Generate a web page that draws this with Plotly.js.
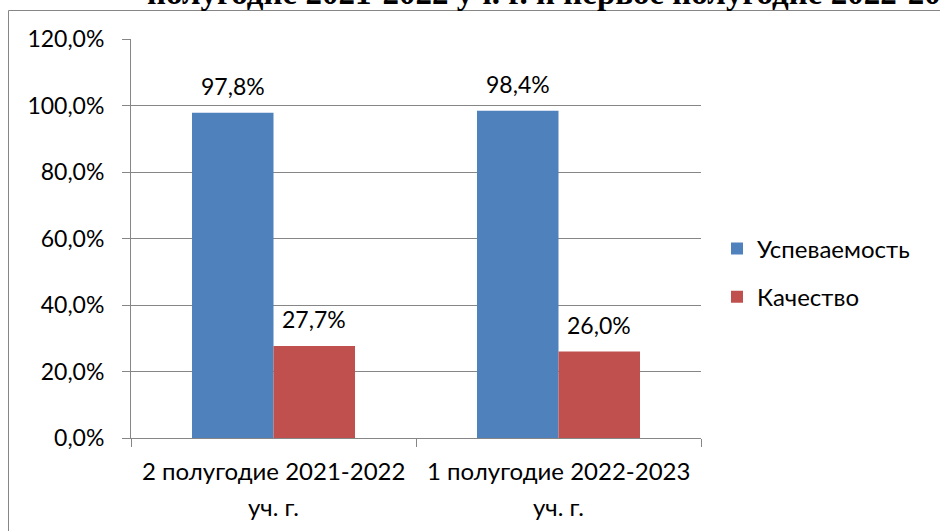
<!DOCTYPE html>
<html>
<head>
<meta charset="utf-8">
<script src="https://cdn.plot.ly/plotly-3.0.1.min.js"></script>
<style>html,body{margin:0;padding:0;background:#fff;}#chart{width:940px;height:531px;}</style>
</head>
<body>
<div id="chart"></div>
<script>
const categories = ["2 полугодие 2021-2022<br>уч. г.", "1 полугодие 2022-2023<br>уч. г."];
const seriesNames = ["Успеваемость", "Качество"];
const uspevaemost = [0.978, 0.984];
const kachestvo = [0.277, 0.260];
const yTicks = [0, 0.2, 0.4, 0.6, 0.8, 1.0, 1.2];
const titleText = "полугодие 2021-2022 уч. г. и первое полугодие 2022-2023";

const colors = ["#4F81BD", "#C0504D"];
const font = "Lato, 'Open Sans', sans-serif";
const W = 940, H = 531;
const M = {l: 131, r: 239, t: 39, b: 93};
const PW = W - M.l - M.r, PH = H - M.t - M.b;
const bargap = 0.428;

const series = [uspevaemost, kachestvo];
const idx = categories.map((c, i) => i);

const traces = series.map((vals, j) => ({
  type: 'bar',
  name: seriesNames[j],
  x: idx,
  y: vals,
  legendgroup: 'g' + j,
  marker: {color: colors[j], line: {width: 0}},
  hoverinfo: 'skip'
}));

const fmt = v => (v * 100).toFixed(1).replace('.', ',') + '%';
const annotations = [];
series.forEach((vals, j) => {
  vals.forEach((v, i) => {
    annotations.push({
      x: i + (j - 0.5) * (1 - bargap) / 2,
      y: v, xref: 'x', yref: 'y',
      text: fmt(v), showarrow: false,
      yanchor: 'bottom', yshift: 11,
      font: {family: font, size: 23, color: '#000'}
    });
  });
});
categories.forEach((c, i) => {
  c.split('<br>').forEach((line, k) => {
    annotations.push({
      x: i, y: 0, xref: 'x', yref: 'paper',
      text: line, showarrow: false,
      yanchor: 'middle', yshift: -32 - 36 * k,
      font: {family: font, size: 24, color: '#000'}
    });
  });
});
annotations.push({
  x: (145 - M.l) / PW, y: (H - M.b - 13) / PH, xref: 'paper', yref: 'paper',
  text: '<b>' + titleText + '</b>', showarrow: false,
  xanchor: 'left', yanchor: 'bottom',
  font: {family: "'Liberation Serif', 'Times New Roman', serif", size: 33, color: '#000'}
});

const layout = {
  width: W, height: H,
  margin: M,
  paper_bgcolor: '#fff', plot_bgcolor: '#fff',
  separators: ', ',
  showlegend: true,
  barmode: 'group', bargap: bargap, bargroupgap: 0,
  font: {family: font, size: 23, color: '#000'},
  xaxis: {
    type: 'linear', range: [-0.5, categories.length - 0.5],
    tickvals: [-0.5, 0.5, 1.5], showticklabels: false,
    ticks: 'outside', ticklen: 8, tickcolor: '#868686', tickwidth: 1,
    showline: true, linecolor: '#868686', linewidth: 1,
    showgrid: false, zeroline: false, fixedrange: true
  },
  yaxis: {
    range: [0, 1.2], tickvals: yTicks, tickformat: '.1%',
    ticks: 'outside', ticklen: 8, tickcolor: '#868686', tickwidth: 1,
    ticklabelstandoff: 13,
    showline: true, linecolor: '#868686', linewidth: 1,
    showgrid: true, gridcolor: '#868686', gridwidth: 1,
    zeroline: false, tickfont: {family: font, size: 23, color: '#000'}
  },
  legend: {
    x: (717 - M.l) / PW, xanchor: 'left',
    y: (H - M.b - 273) / PH, yanchor: 'middle',
    traceorder: 'grouped', tracegroupgap: 14,
    font: {family: font, size: 24, color: '#000'},
    bgcolor: 'rgba(0,0,0,0)'
  },
  annotations: annotations,
  shapes: [{
    type: 'rect', xref: 'paper', yref: 'paper',
    x0: (8.5 - M.l) / PW, x1: (W + 5 - M.l) / PW,
    y0: (H - M.b - (H + 5)) / PH, y1: (H - M.b - 10.5) / PH,
    line: {color: '#868686', width: 1}, fillcolor: 'rgba(0,0,0,0)', layer: 'below'
  }]
};

Plotly.newPlot('chart', traces, layout, {displayModeBar: false, staticPlot: true});
</script>
</body>
</html>
